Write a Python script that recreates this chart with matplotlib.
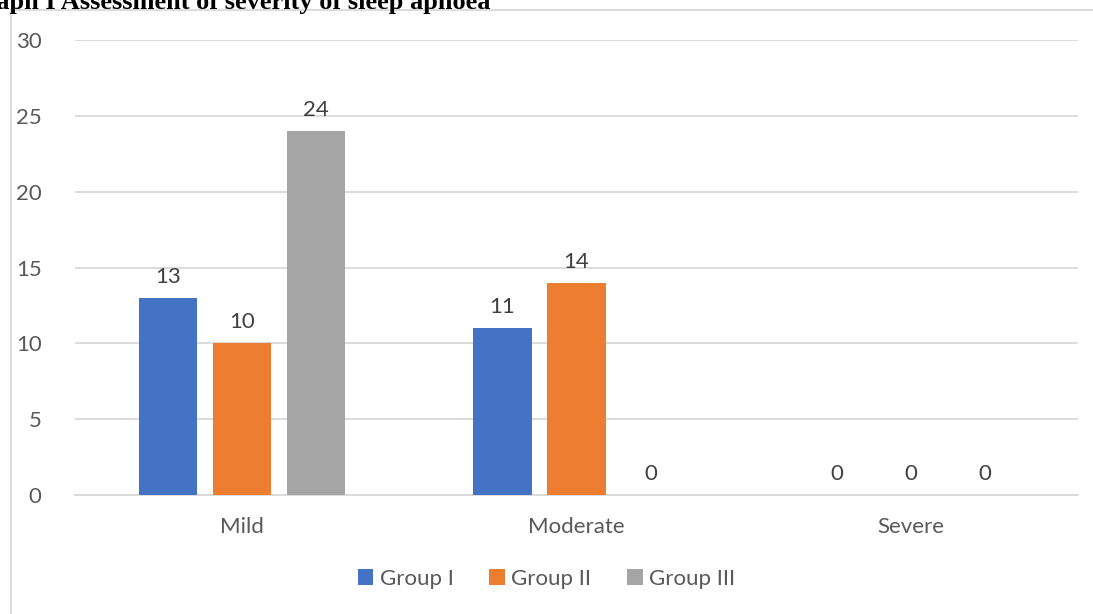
import numpy as np
import matplotlib.pyplot as plt
from matplotlib.patches import Rectangle

categories = ["Mild", "Moderate", "Severe"]
groups = ["Group I", "Group II", "Group III"]
group1 = [13, 11, 0]
group2 = [10, 14, 0]
group3 = [24, 0, 0]
colors = ["#4472C4", "#ED7D31", "#A5A5A5"]
yticks = [0, 5, 10, 15, 20, 25, 30]

plt.rcParams['font.family'] = ['Lato', 'DejaVu Sans']

W, H = 1093, 614
fig = plt.figure(figsize=(W / 100, H / 100), dpi=100)

# chart frame (partly cut off at the right and bottom)
fig.patches.append(Rectangle((11 / W, -0.1), 1.2, 1 - 10 / H + 0.1,
                             transform=fig.transFigure, fill=False,
                             edgecolor="#d9d9d9", linewidth=1.3))

# title, cut off at the top-left like in the source page
fig.text(490 / W, 1 - 9 / H, "Graph I Assessment of severity of sleep apnoea",
         ha="right", va="baseline", family="Liberation Serif",
         fontweight="bold", fontsize=19, color="black")

ax = fig.add_axes([75 / W, 1 - 495 / H, (1078 - 75) / W, (495 - 40) / H])

x = np.arange(len(categories))
step = 0.2215
width = 0.174
series = [group1, group2, group3]
for i, (vals, name, c) in enumerate(zip(series, groups, colors)):
    bars = ax.bar(x + (i - 1) * step, vals, width, color=c, label=name, zorder=3)
    for b, v in zip(bars, vals):
        ax.annotate(str(v), (b.get_x() + b.get_width() / 2, v),
                    xytext=(0, 8), textcoords="offset points",
                    ha="center", va="bottom", fontsize=16, color="#404040")

ax.set_xlim(-0.5, 2.5)
ax.set_ylim(0, 30)
ax.set_yticks(yticks)
ax.set_xticks(x)
ax.set_xticklabels(categories)
ax.grid(axis="y", color="#d9d9d9", linewidth=1.3, zorder=0)
for s in ["top", "right", "left"]:
    ax.spines[s].set_visible(False)
ax.spines["bottom"].set_color("#d9d9d9")
ax.spines["bottom"].set_linewidth(1.3)
ax.tick_params(axis="both", length=0, labelsize=16, colors="#595959")
ax.tick_params(axis="y", pad=24)
ax.tick_params(axis="x", pad=16)

ax.legend(loc="center", bbox_to_anchor=(0.5, (H - 579) / H),
          bbox_transform=fig.transFigure, ncol=3, frameon=False,
          fontsize=16, labelcolor="#595959", handlelength=0.7,
          handleheight=0.7, handletextpad=0.3, columnspacing=1.6)

fig.savefig("out.png", dpi=100)
